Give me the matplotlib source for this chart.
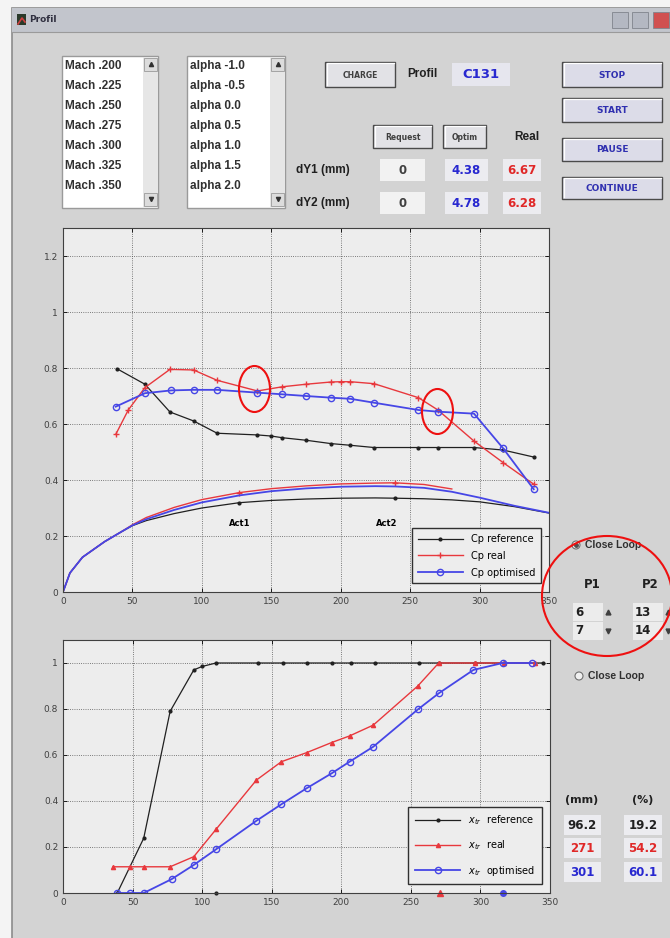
import matplotlib
matplotlib.use("Agg")
import matplotlib.pyplot as plt
from matplotlib.patches import Rectangle, Ellipse, Circle

# ---- data ----
mach_items = ["Mach .200", "Mach .225", "Mach .250", "Mach .275", "Mach .300", "Mach .325", "Mach .350"]
alpha_items = ["alpha -1.0", "alpha -0.5", "alpha 0.0", "alpha 0.5", "alpha 1.0", "alpha 1.5", "alpha 2.0"]
dy_rows = ["dY1 (mm)", "dY2 (mm)"]
dy_request = ["0", "0"]
dy_optim = ["4.38", "4.78"]
dy_real = ["6.67", "6.28"]
run_buttons = ["STOP", "START", "PAUSE", "CONTINUE"]
xtr_mm = ["96.2", "271", "301"]
xtr_pct = ["19.2", "54.2", "60.1"]

# top plot : Cp along the wall
cp_ref_x = [39, 59, 77, 94, 111, 140, 150, 158, 175, 193, 207, 224, 256, 270, 296, 317, 339]
cp_ref_y = [0.797, 0.742, 0.643, 0.611, 0.567, 0.561, 0.557, 0.551, 0.542, 0.530, 0.524, 0.516, 0.516, 0.516, 0.516, 0.507, 0.482]
cp_real_x = [38, 47, 59, 77, 94, 111, 140, 158, 175, 193, 200, 207, 224, 256, 270, 296, 317, 339]
cp_real_y = [0.563, 0.65, 0.73, 0.795, 0.793, 0.756, 0.718, 0.733, 0.742, 0.750, 0.751, 0.751, 0.744, 0.694, 0.65, 0.539, 0.462, 0.385]
cp_opt_x = [38, 59, 78, 94, 111, 140, 158, 175, 193, 207, 224, 256, 270, 296, 317, 339]
cp_opt_y = [0.662, 0.710, 0.720, 0.722, 0.722, 0.712, 0.706, 0.700, 0.694, 0.690, 0.676, 0.650, 0.644, 0.637, 0.513, 0.367]

# wall profiles (reference / real / optimised)
prof_x = [0, 5, 14, 20, 30, 42, 50, 60, 80, 100, 127, 150, 175, 200, 225, 239, 260, 280, 300, 325, 350]
prof_ref = [0, 0.068, 0.124, 0.145, 0.18, 0.215, 0.237, 0.255, 0.28, 0.300, 0.319, 0.327, 0.332, 0.335, 0.336, 0.335, 0.333, 0.329, 0.322, 0.305, 0.282]
prof_real = [0, 0.068, 0.124, 0.145, 0.18, 0.215, 0.240, 0.266, 0.302, 0.330, 0.355, 0.369, 0.379, 0.386, 0.389, 0.390, 0.384, 0.368, 0.345, 0.312, 0.284]
prof_opt = [0, 0.068, 0.124, 0.145, 0.18, 0.215, 0.238, 0.260, 0.293, 0.320, 0.345, 0.360, 0.370, 0.376, 0.378, 0.377, 0.372, 0.358, 0.337, 0.308, 0.283]
act_x = [127, 239]
act_ref = [0.319, 0.335]
act_real = [0.355, 0.390]

# bottom plot : transition
xtr_ref_x = [39, 58, 77, 94, 100, 110, 140, 158, 175, 193, 207, 224, 256, 270, 296, 317, 345]
xtr_ref_y = [0.0, 0.238, 0.79, 0.97, 0.985, 1.0, 1.0, 1.0, 1.0, 1.0, 1.0, 1.0, 1.0, 1.0, 1.0, 1.0, 1.0]
xtr_real_x = [36, 48, 58, 77, 94, 110, 139, 157, 175, 193, 206, 223, 255, 270, 296, 317, 339]
xtr_real_y = [0.114, 0.114, 0.114, 0.114, 0.158, 0.277, 0.491, 0.571, 0.610, 0.654, 0.683, 0.730, 0.900, 1.0, 1.0, 1.0, 1.0]
xtr_opt_x = [39, 48, 58, 78, 94, 110, 139, 157, 175, 193, 206, 223, 255, 270, 295, 316, 337]
xtr_opt_y = [0.0, 0.0, 0.0, 0.06, 0.122, 0.19, 0.314, 0.386, 0.455, 0.520, 0.571, 0.636, 0.798, 0.868, 0.970, 1.0, 1.0]
xtr_pos = [110, 271, 316]

BLACK = "#202020"
RED = "#e8383d"
BLUE = "#4646e6"
PANEL = "#d3d3d3"

W, H = 670, 938
fig = plt.figure(figsize=(W / 100, H / 100), dpi=100, facecolor="#f4f4f4")

# GUI layer in pixel coordinates
gui = fig.add_axes([0, 0, 1, 1], zorder=0)
gui.set_xlim(0, W)
gui.set_ylim(H, 0)
gui.axis("off")


def box(x0, y0, x1, y1, fc, ec="none", lw=0.8):
    gui.add_patch(Rectangle((x0, y0), x1 - x0, y1 - y0, facecolor=fc, edgecolor=ec, linewidth=lw))


def button(x0, y0, x1, y1, label, color, fs, fc="#e2e2e6"):
    box(x0, y0, x1, y1, fc, "#4a4a4a", 1.0)
    gui.plot([x0 + 1.5, x0 + 1.5, x1 - 1.5], [y1 - 1.5, y0 + 1.5, y0 + 1.5], color="white", lw=0.9)
    gui.text((x0 + x1) / 2, (y0 + y1) / 2 + 0.5, label, ha="center", va="center",
             color=color, fontsize=fs, fontweight="bold")


def field(x0, y0, x1, y1, label, color, fs=8.5, fc="#ececf0"):
    box(x0, y0, x1, y1, fc)
    gui.text((x0 + x1) / 2, (y0 + y1) / 2 + 0.5, label, ha="center", va="center",
             color=color, fontsize=fs, fontweight="bold")


# window
box(12, 8, W + 2, H + 2, PANEL, "#8c8c8c", 1.2)
box(12, 8, W + 2, 32, "#c2c5cc")
gui.plot([12, W], [32, 32], color="#9a9a9a", lw=0.8)
box(17, 14, 26, 25, "#2a3a2a")
gui.plot([18, 22, 25], [24, 18, 22], color="#d04040", lw=1.2)
gui.text(29, 20, "Profil", fontsize=6.5, fontweight="bold", color="#303040", va="center")
for xc, col in [(620, "#b4b8c2"), (640, "#b4b8c2"), (661, "#d05050")]:
    gui.add_patch(Rectangle((xc - 8, 12), 16, 16, facecolor=col, edgecolor="#80848c", lw=0.6))

# list boxes
for x0, x1, items in [(62, 158, mach_items), (187, 285, alpha_items)]:
    box(x0, 56, x1, 208, "white", "#9a9a9a", 1.0)
    box(x1 - 15, 57, x1, 207, "#e6e6e6")
    box(x1 - 14, 58, x1 - 1, 71, "#dcdcdc", "#9a9a9a", 0.6)
    box(x1 - 14, 193, x1 - 1, 206, "#dcdcdc", "#9a9a9a", 0.6)
    gui.plot(x1 - 7.5, 64.5, marker="^", ms=3, color="#303030")
    gui.plot(x1 - 7.5, 199.5, marker="v", ms=3, color="#303030")
    for i, txt in enumerate(items):
        gui.text(x0 + 3, 66 + 20 * i, txt, fontsize=8.5, color="#303030", va="center",
                 family="Liberation Sans", fontweight="bold")

# top controls
button(325, 62, 395, 87, "CHARGE", "#404040", 5.5)
gui.text(407, 74, "Profil", fontsize=8.5, fontweight="bold", color=BLACK, va="center", family="Liberation Sans")
field(452, 63, 510, 86, "C131", "#2828d0", 9.5, "#e6e6ee")
ys = [62, 98, 138, 177]
ye = [87, 122, 161, 199]
for lab, y0, y1 in zip(run_buttons, ys, ye):
    button(562, y0, 662, y1, lab, "#3030b0", 6.5, "#dcdce8")

button(373, 125, 432, 148, "Request", "#404040", 5.5)
button(443, 125, 486, 148, "Optim", "#404040", 5.5)
gui.text(527, 137, "Real", fontsize=8.5, fontweight="bold", color=BLACK, ha="center", va="center",
         family="Liberation Sans")
for i, row in enumerate(dy_rows):
    yc = 170 + 33 * i
    gui.text(296, yc, row, fontsize=8.5, fontweight="bold", color=BLACK, va="center", family="Liberation Sans")
    field(380, yc - 11, 425, yc + 11, dy_request[i], "#404040", 8.5, "#f2f2f2")
    field(445, yc - 11, 488, yc + 11, dy_optim[i], "#2828d0", 8.5)
    field(503, yc - 11, 541, yc + 11, dy_real[i], "#e02828", 8.5)

# right side controls
for xr, yr in [(576, 545), (579, 676)]:
    gui.add_patch(Circle((xr, yr), 4, facecolor="#f0f0f0", edgecolor="#707070", lw=0.8))
    gui.text(xr + 9, yr, "Close Loop", fontsize=7.5, fontweight="bold", color="#303030", va="center",
             family="Liberation Sans")
gui.plot(576, 545, marker="o", ms=2.5, color="#505050")
gui.text(592, 585, "P1", fontsize=8.5, fontweight="bold", color=BLACK, ha="center", va="center")
gui.text(650, 585, "P2", fontsize=8.5, fontweight="bold", color=BLACK, ha="center", va="center")
for xs, vals in [(573, ["6", "7"]), (633, ["13", "14"])]:
    for j, v in enumerate(vals):
        yc = 612 + 19 * j
        box(xs, yc - 9, xs + 30, yc + 9, "#ececec")
        gui.text(xs + 2, yc, v, fontsize=8.5, fontweight="bold", color=BLACK, va="center")
        gui.plot(xs + 35, yc, marker="^" if j == 0 else "v", ms=3.5, color="#404040")

gui.text(582, 800, "(mm)", fontsize=8, fontweight="bold", color=BLACK, ha="center", va="center")
gui.text(643, 800, "(%)", fontsize=8, fontweight="bold", color=BLACK, ha="center", va="center")
for j, col in enumerate([BLACK, "#e02828", "#2828d0"]):
    yc = 825 + 23.5 * j
    field(564, yc - 10, 601, yc + 10, xtr_mm[j], col, 8.5)
    field(624, yc - 10, 662, yc + 10, xtr_pct[j], col, 8.5)


def style_axes(ax, ymax, yt, ylabels):
    ax.set_facecolor("#ededed")
    ax.set_xlim(0, 350)
    ax.set_ylim(0, ymax)
    ax.set_xticks(range(0, 351, 50))
    ax.set_yticks(yt)
    ax.set_yticklabels(ylabels)
    ax.tick_params(direction="in", labelsize=6.5, labelcolor="#404040", length=3, width=0.6,
                   top=True, right=True)
    ax.grid(True, linestyle=":", color="#555555", linewidth=0.6)
    for s in ax.spines.values():
        s.set_color("#404040")
        s.set_linewidth(0.8)


# top axes: pixels 63..549 x, 228..592 y
ax1 = fig.add_axes([63 / W, 1 - 592 / H, 486 / W, 364 / H], zorder=2)
style_axes(ax1, 1.3, [0, 0.2, 0.4, 0.6, 0.8, 1.0, 1.2], ["0", "0.2", "0.4", "0.6", "0.8", "1", "1.2"])
ax1.plot(prof_x, prof_ref, color=BLACK, lw=0.9)
ax1.plot(act_x, act_ref, ".", color=BLACK, ms=4)
ax1.plot(prof_x[:-3], prof_real[:-3], color=RED, lw=1.0)
ax1.plot(act_x, act_real, "+", color=RED, ms=4)
ax1.plot(prof_x, prof_opt, color=BLUE, lw=1.3)
ax1.text(127, 0.243, "Act1", fontsize=6, fontweight="bold", ha="center", va="center")
ax1.text(233, 0.243, "Act2", fontsize=6, fontweight="bold", ha="center", va="center")
ax1.plot(cp_ref_x, cp_ref_y, ".-", color=BLACK, lw=0.9, ms=4, label="Cp reference")
ax1.plot(cp_real_x, cp_real_y, "+-", color=RED, lw=1.0, ms=4, label="Cp real")
ax1.plot(cp_opt_x, cp_opt_y, "o-", color=BLUE, lw=1.3, ms=4.5, mfc="none", label="Cp optimised")
leg1 = ax1.legend(loc="lower right", bbox_to_anchor=(0.993, 0.01), fontsize=7, fancybox=False,
                  edgecolor="#303030", framealpha=1, handlelength=4.6, borderpad=0.6, labelspacing=0.7)
leg1.get_frame().set_facecolor("#ededed")
leg1.get_frame().set_linewidth(1.0)

# bottom axes: pixels 63..550 x, 640..893 y
ax2 = fig.add_axes([63 / W, 1 - 893 / H, 487 / W, 253 / H], zorder=2)
style_axes(ax2, 1.1, [0, 0.2, 0.4, 0.6, 0.8, 1.0], ["0", "0.2", "0.4", "0.6", "0.8", "1"])
ax2.plot(xtr_ref_x, xtr_ref_y, ".-", color=BLACK, lw=0.9, ms=4, label="$x_{tr}$  reference")
ax2.plot(xtr_real_x, xtr_real_y, "^-", color=RED, lw=1.0, ms=3, label="$x_{tr}$  real")
ax2.plot(xtr_opt_x, xtr_opt_y, "o-", color=BLUE, lw=1.3, ms=4.5, mfc="none", label="$x_{tr}$  optimised")
for xp, col, mk in zip(xtr_pos, [BLACK, RED, BLUE], [".", "^", "o"]):
    ax2.plot(xp, 0, mk, color=col, ms=4, clip_on=False)
leg2 = ax2.legend(loc="lower right", bbox_to_anchor=(0.993, 0.015), fontsize=7, fancybox=False,
                  edgecolor="#303030", framealpha=1, handlelength=4.6, borderpad=0.7, labelspacing=1.15)
leg2.get_frame().set_facecolor("#ededed")
leg2.get_frame().set_linewidth(1.0)

# red annotation ellipses on top of everything
ov = fig.add_axes([0, 0, 1, 1], zorder=10)
ov.set_xlim(0, W)
ov.set_ylim(H, 0)
ov.axis("off")
ov.patch.set_alpha(0)
for (xc, yc, w, h) in [(254.5, 389, 31, 46), (437.5, 411.5, 31, 45), (607, 596, 130, 120)]:
    ov.add_patch(Ellipse((xc, yc), w, h, facecolor="none", edgecolor="#ee1010", lw=1.5))

fig.savefig("out.png", dpi=100, facecolor=fig.get_facecolor())
